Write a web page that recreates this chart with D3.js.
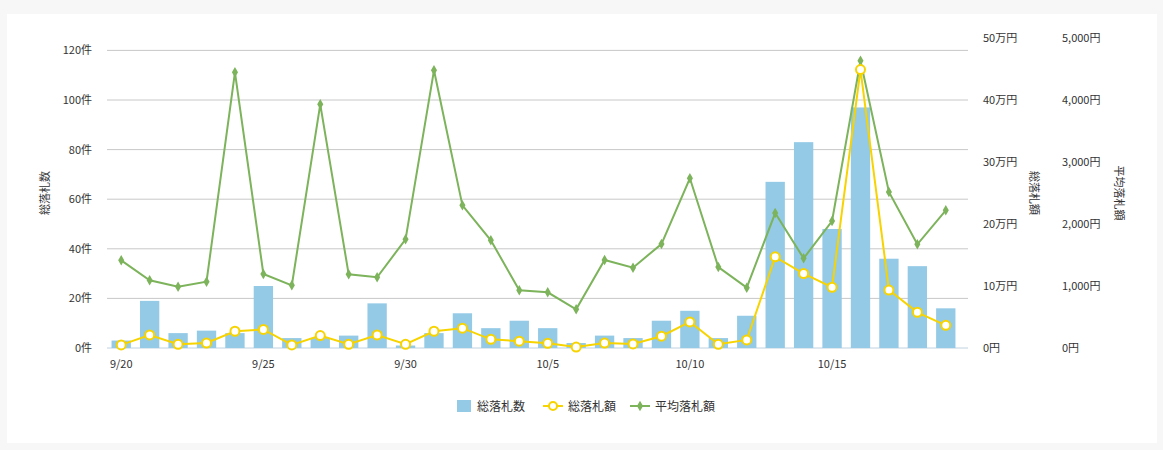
<html>
<head>
<meta charset="utf-8">
<script src="https://d3js.org/d3.v7.min.js"></script>
<style>
  body { margin: 0; background: #f7f7f7; font-family: "Noto Sans CJK JP", "Noto Sans", sans-serif; }
  svg text { fill: #333; }
</style>
</head>
<body>
<svg id="chart" width="1163" height="450"></svg>
<script>
var dates = ["9/20","9/21","9/22","9/23","9/24","9/25","9/26","9/27","9/28","9/29","9/30",
  "10/1","10/2","10/3","10/4","10/5","10/6","10/7","10/8","10/9","10/10",
  "10/11","10/12","10/13","10/14","10/15","10/16","10/17","10/18","10/19"];
// 総落札数 (件)
var counts = [3,19,6,7,6,25,4,4,5,18,1,6,14,8,11,8,2,5,4,11,15,4,13,67,83,48,97,36,33,16];
// 総落札額 (万円)
var totals = [0.5,2.1,0.6,0.8,2.7,3.0,0.5,2.0,0.6,2.1,0.6,2.7,3.2,1.4,1.1,0.75,0.15,0.8,0.65,1.9,4.2,0.6,1.3,14.7,12.0,9.8,44.9,9.35,5.75,3.65];
// 平均落札額 (円)
var averages = [1414,1092,989,1070,4446,1194,1011,3930,1188,1140,1753,4479,2301,1737,930,898,624,1419,1296,1677,2737,1306,973,2177,1446,2048,4634,2516,1672,2220];
var tickDates = ["9/20","9/25","9/30","10/5","10/10","10/15"];

var svg = d3.select("#chart");
svg.append("rect").attr("x", 7).attr("y", 14).attr("width", 1150).attr("height", 429).attr("fill", "#fff");

var pLeft = 107, pRight = 960, pTop = 38, pBottom = 348;
var x = d3.scaleBand().domain(dates).range([pLeft, pRight]).paddingInner(0.32).paddingOuter(0.16);
var cx = function(d) { return x(d) + x.bandwidth() / 2; };
var yCount = d3.scaleLinear().domain([0, 125]).range([pBottom, pTop]);
var yTotal = d3.scaleLinear().domain([0, 50]).range([pBottom, pTop]);
var yAvg = d3.scaleLinear().domain([0, 5000]).range([pBottom, pTop]);

// grid
svg.append("g").selectAll("line").data(yCount.ticks(5).filter(function(d) { return d > 0; }))
  .join("line").attr("x1", pLeft).attr("x2", 968)
  .attr("y1", function(d) { return yCount(d); }).attr("y2", function(d) { return yCount(d); })
  .attr("stroke", "#c8c8c8");
svg.append("line").attr("x1", pLeft).attr("x2", 968).attr("y1", pBottom).attr("y2", pBottom).attr("stroke", "#c0d0e0");

var fs = "11px";
svg.append("g").selectAll("text").data(yCount.ticks(5)).join("text")
  .attr("x", 92).attr("y", function(d) { return yCount(d) + 4; })
  .attr("text-anchor", "end").style("font-size", fs).text(function(d) { return d + "件"; });
svg.append("g").selectAll("text").data(yTotal.ticks(5)).join("text")
  .attr("x", 983).attr("y", function(d) { return yTotal(d) + 4; })
  .style("font-size", fs).text(function(d) { return d === 0 ? "0円" : d + "万円"; });
svg.append("g").selectAll("text").data(yAvg.ticks(5)).join("text")
  .attr("x", 1062).attr("y", function(d) { return yAvg(d) + 4; })
  .style("font-size", fs).text(function(d) { return d3.format(",")(d) + "円"; });
svg.append("g").selectAll("text").data(tickDates).join("text")
  .attr("x", cx).attr("y", 368).attr("text-anchor", "middle").style("font-size", fs)
  .text(function(d) { return d; });

svg.append("text").attr("transform", "translate(49,193) rotate(-90)").attr("text-anchor", "middle")
  .style("font-size", "11px").text("総落札数");
svg.append("text").attr("transform", "translate(1030,193) rotate(90)").attr("text-anchor", "middle")
  .style("font-size", "11px").text("総落札額");
svg.append("text").attr("transform", "translate(1115,193) rotate(90)").attr("text-anchor", "middle")
  .style("font-size", "11px").text("平均落札額");

// bars
svg.append("g").selectAll("rect").data(counts).join("rect")
  .attr("x", function(d, i) { return x(dates[i]); }).attr("width", x.bandwidth())
  .attr("y", function(d) { return yCount(d); }).attr("height", function(d) { return pBottom - yCount(d); })
  .attr("fill", "#94cae6");

// yellow line
var lineT = d3.line().x(function(d, i) { return cx(dates[i]); }).y(function(d) { return yTotal(d); });
svg.append("path").datum(totals).attr("d", lineT).attr("fill", "none").attr("stroke", "#f7d300").attr("stroke-width", 2);

// green line
var lineA = d3.line().x(function(d, i) { return cx(dates[i]); }).y(function(d) { return yAvg(d); });
svg.append("path").datum(averages).attr("d", lineA).attr("fill", "none").attr("stroke", "#7cb35b").attr("stroke-width", 2);
svg.append("g").selectAll("path").data(averages).join("path")
  .attr("d", d3.symbol(d3.symbolDiamond, 32))
  .attr("transform", function(d, i) { return "translate(" + cx(dates[i]) + "," + yAvg(d) + ")"; })
  .attr("fill", "#7cb35b");

svg.append("g").selectAll("circle").data(totals).join("circle")
  .attr("cx", function(d, i) { return cx(dates[i]); }).attr("cy", function(d) { return yTotal(d); })
  .attr("r", 4.5).attr("fill", "#fff").attr("stroke", "#f7d300").attr("stroke-width", 2);

// legend
var lg = svg.append("g").attr("transform", "translate(0,406)");
lg.append("rect").attr("x", 457).attr("y", -6).attr("width", 14).attr("height", 12).attr("fill", "#94cae6");
lg.append("text").attr("x", 477).attr("y", 5).style("font-size", "12px").text("総落札数");
lg.append("line").attr("x1", 543).attr("x2", 563).attr("y1", 0).attr("y2", 0).attr("stroke", "#f7d300").attr("stroke-width", 2);
lg.append("circle").attr("cx", 553).attr("cy", 0).attr("r", 4).attr("fill", "#fff").attr("stroke", "#f7d300").attr("stroke-width", 2);
lg.append("text").attr("x", 568).attr("y", 5).style("font-size", "12px").text("総落札額");
lg.append("line").attr("x1", 630).attr("x2", 650).attr("y1", 0).attr("y2", 0).attr("stroke", "#7cb35b").attr("stroke-width", 2);
lg.append("path").attr("d", d3.symbol(d3.symbolDiamond, 32)).attr("transform", "translate(640,0)").attr("fill", "#7cb35b");
lg.append("text").attr("x", 655).attr("y", 5).style("font-size", "12px").text("平均落札額");
</script>
</body>
</html>
